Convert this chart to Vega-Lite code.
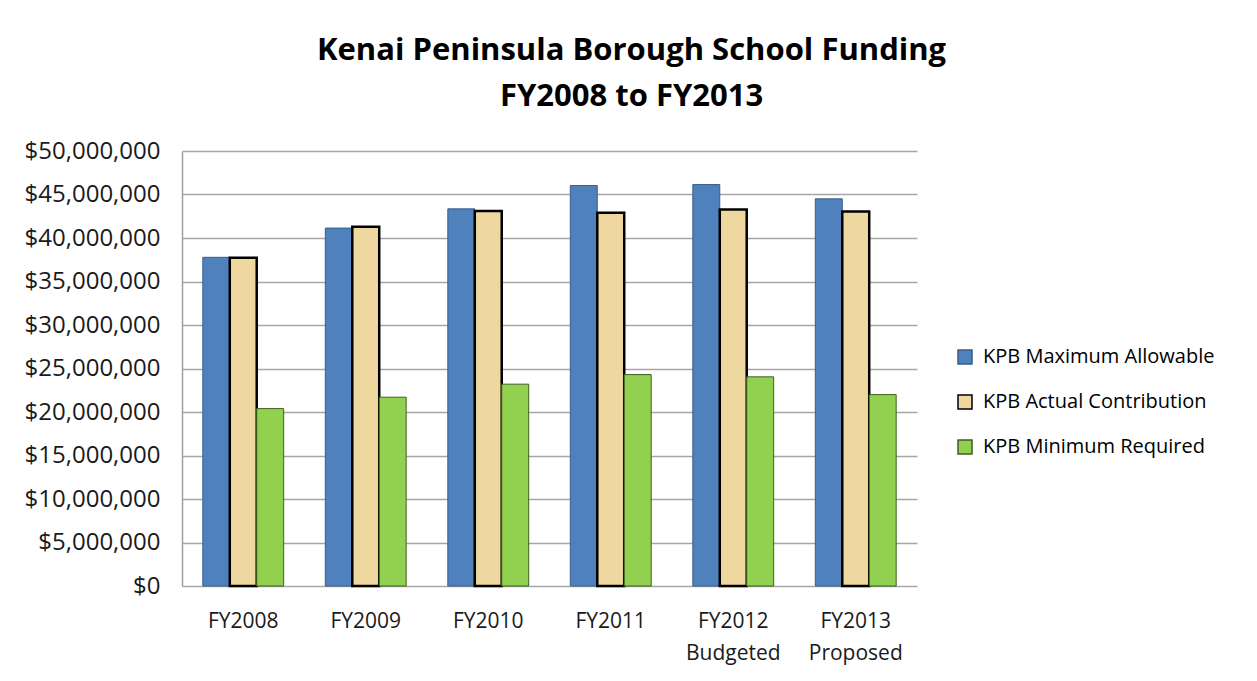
{
  "$schema": "https://vega.github.io/schema/vega-lite/v6.json",
  "width": 735,
  "height": 435,
  "padding": {"left": 24, "top": 35, "right": 10, "bottom": 10},
  "background": "white",
  "title": {
    "text": ["Kenai Peninsula Borough School Funding", "FY2008 to FY2013"],
    "fontSize": 31,
    "font": "Open Sans",
    "fontWeight": "bold",
    "lineHeight": 46,
    "anchor": "middle",
    "frame": "bounds",
    "offset": 26,
    "dx": 12,
    "color": "#000000"
  },
  "data": {
    "values": [
      {"year": "FY2008", "series": "KPB Maximum Allowable", "amount": 37780000},
      {"year": "FY2008", "series": "KPB Actual Contribution", "amount": 37720000},
      {"year": "FY2008", "series": "KPB Minimum Required", "amount": 20390000},
      {"year": "FY2009", "series": "KPB Maximum Allowable", "amount": 41140000},
      {"year": "FY2009", "series": "KPB Actual Contribution", "amount": 41300000},
      {"year": "FY2009", "series": "KPB Minimum Required", "amount": 21700000},
      {"year": "FY2010", "series": "KPB Maximum Allowable", "amount": 43350000},
      {"year": "FY2010", "series": "KPB Actual Contribution", "amount": 43100000},
      {"year": "FY2010", "series": "KPB Minimum Required", "amount": 23200000},
      {"year": "FY2011", "series": "KPB Maximum Allowable", "amount": 46030000},
      {"year": "FY2011", "series": "KPB Actual Contribution", "amount": 42900000},
      {"year": "FY2011", "series": "KPB Minimum Required", "amount": 24300000},
      {"year": "FY2012 Budgeted", "series": "KPB Maximum Allowable", "amount": 46140000},
      {"year": "FY2012 Budgeted", "series": "KPB Actual Contribution", "amount": 43270000},
      {"year": "FY2012 Budgeted", "series": "KPB Minimum Required", "amount": 24040000},
      {"year": "FY2013 Proposed", "series": "KPB Maximum Allowable", "amount": 44500000},
      {"year": "FY2013 Proposed", "series": "KPB Actual Contribution", "amount": 43040000},
      {"year": "FY2013 Proposed", "series": "KPB Minimum Required", "amount": 22000000}
    ]
  },
  "mark": {"type": "bar"},
  "encoding": {
    "x": {
      "field": "year",
      "type": "nominal",
      "sort": null,
      "scale": {"paddingInner": 0.34, "paddingOuter": 0.17},
      "axis": {
        "title": null,
        "labelAngle": 0,
        "labelExpr": "split(datum.label, ' ')",
        "domain": false,
        "ticks": false,
        "labelFontSize": 21,
        "labelPadding": 24,
        "labelLineHeight": 32,
        "labelColor": "#1a1a1a",
        "labelFont": "Open Sans"
      }
    },
    "xOffset": {
      "field": "series",
      "type": "nominal",
      "sort": ["KPB Maximum Allowable", "KPB Actual Contribution", "KPB Minimum Required"],
      "scale": {"paddingInner": 0, "paddingOuter": 0}
    },
    "y": {
      "field": "amount",
      "type": "quantitative",
      "scale": {"domain": [0, 50000000], "nice": false},
      "axis": {
        "title": null,
        "format": "$,.0f",
        "values": [0, 5000000, 10000000, 15000000, 20000000, 25000000, 30000000, 35000000, 40000000, 45000000, 50000000],
        "grid": true,
        "gridColor": "#a6a6a6",
        "gridWidth": 1.3,
        "domainColor": "#a0a0a0",
        "domainWidth": 1.5,
        "ticks": false,
        "labelPadding": 22,
        "labelFontSize": 24,
        "labelColor": "#1a1a1a",
        "labelFont": "Open Sans"
      }
    },
    "fill": {
      "field": "series",
      "type": "nominal",
      "sort": ["KPB Maximum Allowable", "KPB Actual Contribution", "KPB Minimum Required"],
      "scale": {
        "domain": ["KPB Maximum Allowable", "KPB Actual Contribution", "KPB Minimum Required"],
        "range": ["#4F81BD", "#EED8A0", "#92D050"]
      },
      "legend": {
        "title": null,
        "orient": "none",
        "legendX": 773,
        "legendY": 196,
        "symbolType": "square",
        "symbolSize": 196,
        "symbolStrokeWidth": 1.5,
        "labelFontSize": 20,
        "labelFont": "Open Sans",
        "labelColor": "#000000",
        "labelOffset": 8,
        "labelLimit": 400,
        "rowPadding": 25
      }
    },
    "stroke": {
      "field": "series",
      "type": "nominal",
      "sort": ["KPB Maximum Allowable", "KPB Actual Contribution", "KPB Minimum Required"],
      "scale": {
        "domain": ["KPB Maximum Allowable", "KPB Actual Contribution", "KPB Minimum Required"],
        "range": ["#385D8A", "#000000", "#3F5F20"]
      },
      "legend": {
        "title": null,
        "orient": "none",
        "legendX": 773,
        "legendY": 196,
        "symbolType": "square",
        "symbolSize": 196,
        "symbolStrokeWidth": 1.5,
        "labelFontSize": 20,
        "labelFont": "Open Sans",
        "labelColor": "#000000",
        "labelOffset": 8,
        "labelLimit": 400,
        "rowPadding": 25
      }
    },
    "strokeWidth": {
      "condition": {"test": "datum.series === 'KPB Actual Contribution'", "value": 2.5},
      "value": 1
    }
  },
  "config": {"view": {"stroke": null}, "font": "Open Sans"}
}
